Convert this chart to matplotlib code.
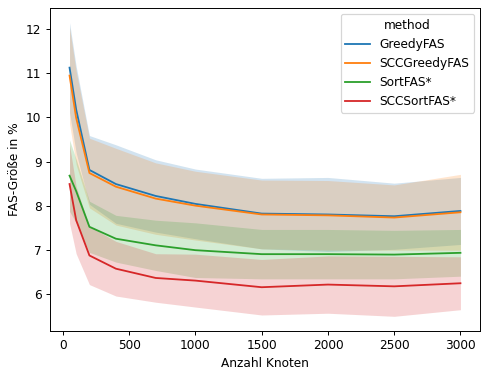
import numpy as np
from matplotlib import pyplot as plt

# node counts of the test graphs
nodes = [50, 100, 200, 400, 700, 1000, 1500, 2000, 2500, 3000]

methods = ['GreedyFAS', 'SCCGreedyFAS', 'SortFAS*', 'SCCSortFAS*']

# mean FAS size in percent per method
greedy_mean = [11.13, 10.18, 8.81, 8.49, 8.22, 8.04, 7.82, 7.80, 7.76, 7.88]
scc_greedy_mean = [10.95, 9.99, 8.74, 8.43, 8.16, 8.00, 7.80, 7.78, 7.73, 7.85]
sort_mean = [8.68, 8.33, 7.52, 7.25, 7.10, 6.99, 6.90, 6.90, 6.89, 6.93]
scc_sort_mean = [8.49, 7.67, 6.87, 6.57, 6.36, 6.30, 6.15, 6.21, 6.17, 6.24]

# standard deviation per method
greedy_sd = [1.02, 0.98, 0.78, 0.89, 0.82, 0.79, 0.80, 0.84, 0.75, 0.76]
scc_greedy_sd = [1.09, 1.06, 0.79, 0.87, 0.81, 0.78, 0.78, 0.79, 0.74, 0.86]
sort_sd = [0.81, 0.72, 0.58, 0.53, 0.57, 0.62, 0.56, 0.56, 0.55, 0.53]
scc_sort_sd = [0.89, 0.76, 0.66, 0.62, 0.55, 0.60, 0.63, 0.65, 0.68, 0.60]

means = [greedy_mean, scc_greedy_mean, sort_mean, scc_sort_mean]
sds = [greedy_sd, scc_greedy_sd, sort_sd, scc_sort_sd]
colors = ['tab:blue', 'tab:orange', 'tab:green', 'tab:red']

plt.rcParams['font.size'] = 10

fig = plt.figure(figsize=(481 / 87, 369 / 87), dpi=87)
ax = fig.add_axes([50 / 481, 1 - 331 / 369, 430 / 481, 323 / 369])

for i in range(len(methods)):
    m = np.array(means[i])
    s = np.array(sds[i])
    ax.plot(nodes, m, color=colors[i], label=methods[i], lw=1.5)
    ax.fill_between(nodes, m - s, m + s, color=colors[i], alpha=0.2, lw=0)

ax.set_xlabel('Anzahl Knoten')
ax.set_ylabel('FAS-Größe in %')
ax.legend(title='method', loc='upper right')

fig.savefig('out.png', dpi=87)
